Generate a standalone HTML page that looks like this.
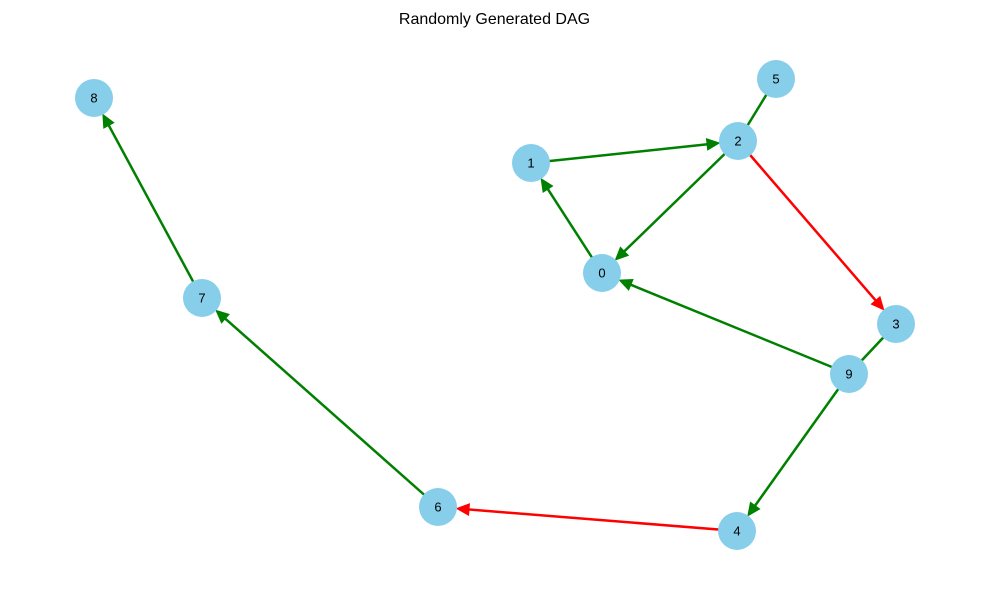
<!DOCTYPE html>
<html><head><style>
html,body{margin:0;padding:0;background:#fff;}
svg{display:block;font-family:"Liberation Sans","DejaVu Sans",sans-serif;}
</style></head><body>
<svg id="s" width="989" height="590" viewBox="0 0 989 590" xmlns="http://www.w3.org/2000/svg">
<text x="494.5" y="24" text-anchor="middle" font-size="16" fill="#000">Randomly Generated DAG</text>
<g id="e"></g><g id="n"></g>
</svg>
<script>
var N={0:[602,273],1:[531,163],2:[738,141],3:[896,324],4:[737,531],5:[776,79],6:[438,507],7:[202,298],8:[94,98],9:[849,374]};
var E=[[0,1,'g',1],[1,2,'g',1],[2,0,'g',1],[2,3,'r',1],[9,0,'g',1],[9,4,'g',1],[4,6,'r',1],[6,7,'g',1],[7,8,'g',1],[5,2,'g',0],[9,3,'g',0]];
var ns="http://www.w3.org/2000/svg",eg=document.getElementById('e'),ng=document.getElementById('n');
E.forEach(function(d){
 var a=N[d[0]],b=N[d[1]],c=d[2]=='r'?'#ff0000':'#008000';
 var dx=b[0]-a[0],dy=b[1]-a[1],L=Math.hypot(dx,dy),ux=dx/L,uy=dy/L;
 var tx=b[0]-ux*19,ty=b[1]-uy*19;
 var l=document.createElementNS(ns,'line');
 var ex=d[3]?tx-ux*8:b[0],ey=d[3]?ty-uy*8:b[1];
 l.setAttribute('x1',a[0]);l.setAttribute('y1',a[1]);l.setAttribute('x2',ex);l.setAttribute('y2',ey);
 l.setAttribute('stroke',c);l.setAttribute('stroke-width',2.5);eg.appendChild(l);
 if(d[3]){
  var bx=tx-ux*12,by=ty-uy*12,px=-uy*5.5,py=ux*5.5;
  var p=document.createElementNS(ns,'polygon');
  p.setAttribute('points',tx+','+ty+' '+(bx+px)+','+(by+py)+' '+(bx-px)+','+(by-py));
  p.setAttribute('fill',c);p.setAttribute('stroke',c);p.setAttribute('stroke-width',1.2);p.setAttribute('stroke-linejoin','miter');
  eg.appendChild(p);
 }
});
for(var k in N){
 var c=document.createElementNS(ns,'circle');
 c.setAttribute('cx',N[k][0]);c.setAttribute('cy',N[k][1]);c.setAttribute('r',19);c.setAttribute('fill','#87ceeb');ng.appendChild(c);
 var t=document.createElementNS(ns,'text');
 t.setAttribute('x',N[k][0]);t.setAttribute('y',N[k][1]+4.5);t.setAttribute('text-anchor','middle');t.setAttribute('font-size','13');
 t.textContent=k;ng.appendChild(t);
}
</script>
</body></html>
